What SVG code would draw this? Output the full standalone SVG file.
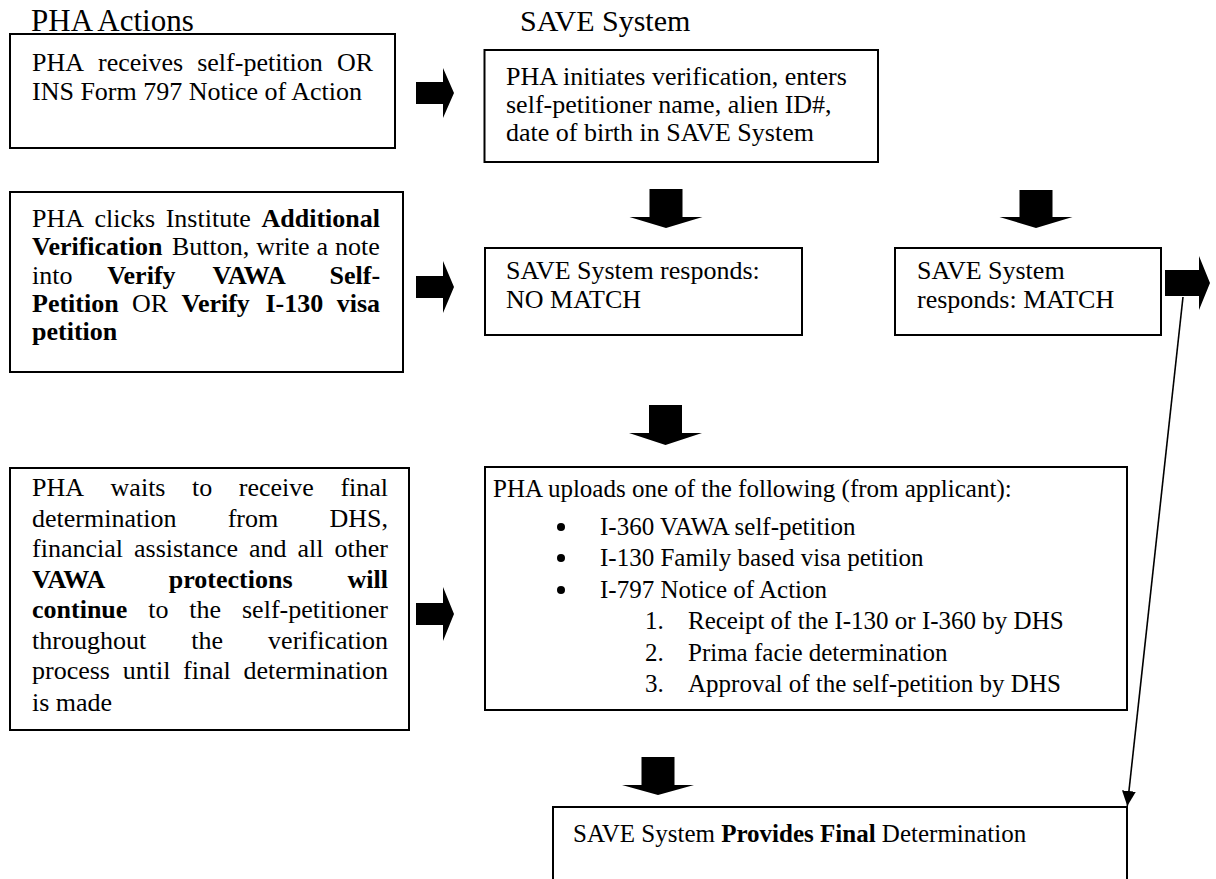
<svg xmlns="http://www.w3.org/2000/svg" width="1216" height="879" viewBox="0 0 1216 879">
<style>
text{font-family:"Liberation Serif","Times New Roman",serif;font-size:26px;fill:#000}
.title{font-size:30px}
.sm{font-size:25px}
.b{font-weight:bold}
.box{fill:#fff;stroke:#000;stroke-width:2}
.blk{fill:#000;stroke:none}
.thin{fill:none;stroke:#000;stroke-width:1.6}
</style>
<defs>
<marker id="ah" markerUnits="userSpaceOnUse" markerWidth="15" markerHeight="14" refX="15" refY="7" orient="auto">
<path d="M0,0 L15,7 L0,14 Z" fill="#000"/>
</marker>
</defs>
<rect width="1216" height="879" fill="#fff"/>
<g id="headers">
<text class="title" x="31" y="31" style="font-size:31px">PHA Actions</text>
<text class="title" x="520" y="31">SAVE System</text>
</g>
<g id="n1">
<rect class="box" x="10" y="34" width="385" height="114"/>
<text y="71"><tspan x="32">PHA</tspan><tspan x="98">receives</tspan><tspan x="197.2">self-petition</tspan><tspan x="336.9">OR</tspan></text>
<text x="32" y="100">INS Form 797 Notice of Action</text>
</g>
<g id="n2">
<rect class="box" x="484.5" y="50" width="393.5" height="112"/>
<text x="506" y="85">PHA initiates verification, enters</text>
<text x="506" y="113">self-petitioner name, alien ID#,</text>
<text x="506" y="141">date of birth in SAVE System</text>
</g>
<g id="n3">
<rect class="box" x="10" y="192" width="393" height="180"/>
<text y="227"><tspan x="32">PHA</tspan><tspan x="94.5">clicks</tspan><tspan x="165.7">Institute</tspan><tspan x="261.5" class="b">Additional</tspan></text>
<text y="255"><tspan x="32" class="b">Verification</tspan><tspan x="171.9">Button,</tspan><tspan x="256.2">write</tspan><tspan x="316.6">a</tspan><tspan x="335.1">note</tspan></text>
<text y="283.5"><tspan x="32">into</tspan><tspan x="107.2" class="b">Verify</tspan><tspan x="212.5" class="b">VAWA</tspan><tspan x="329.5" class="b">Self-</tspan></text>
<text y="312"><tspan x="32" class="b">Petition</tspan><tspan x="132">OR</tspan><tspan x="181.5" class="b">Verify</tspan><tspan x="265.5" class="b">I-130</tspan><tspan x="336.7" class="b">visa</tspan></text>
<text y="340" x="32" class="b">petition</text>
</g>
<g id="n4">
<rect class="box" x="485" y="248" width="317" height="87"/>
<text x="506" y="279">SAVE System responds:</text>
<text x="506" y="308">NO MATCH</text>
</g>
<g id="n5">
<rect class="box" x="895" y="248" width="266" height="87"/>
<text x="917" y="279">SAVE System</text>
<text x="917" y="308">responds: MATCH</text>
</g>
<g id="n6">
<rect class="box" x="10" y="468" width="399" height="262"/>
<text y="496"><tspan x="32">PHA</tspan><tspan x="110.6">waits</tspan><tspan x="192">to</tspan><tspan x="238.8">receive</tspan><tspan x="340.4">final</tspan></text>
<text y="526.5"><tspan x="32">determination</tspan><tspan x="227.7">from</tspan><tspan x="329.5">DHS,</tspan></text>
<text y="557"><tspan x="32">financial</tspan><tspan x="134">assistance</tspan><tspan x="249">and</tspan><tspan x="297.5">all</tspan><tspan x="334.5">other</tspan></text>
<text y="587.5" class="b"><tspan x="32">VAWA</tspan><tspan x="168.8">protections</tspan><tspan x="347.5">will</tspan></text>
<text y="618"><tspan x="32" class="b">continue</tspan><tspan x="148.2">to</tspan><tspan x="189.3">the</tspan><tspan x="242">self-petitioner</tspan></text>
<text y="648.5"><tspan x="32">throughout</tspan><tspan x="191.2">the</tspan><tspan x="268.1">verification</tspan></text>
<text y="679"><tspan x="32">process</tspan><tspan x="122.7">until</tspan><tspan x="183.1">final</tspan><tspan x="243.5">determination</tspan></text>
<text x="32" y="711">is made</text>
</g>
<g id="n7">
<rect class="box" x="485" y="467" width="642" height="243"/>
<text class="sm" x="493" y="497">PHA uploads one of the following (from applicant):</text>
<circle class="blk" cx="561" cy="527" r="4"/>
<circle class="blk" cx="561" cy="558" r="4"/>
<circle class="blk" cx="561" cy="590" r="4"/>
<text class="sm" x="600" y="535">I-360 VAWA self-petition</text>
<text class="sm" x="600" y="566">I-130 Family based visa petition</text>
<text class="sm" x="600" y="598">I-797 Notice of Action</text>
<text class="sm" x="645" y="629">1.</text>
<text class="sm" x="688" y="629">Receipt of the I-130 or I-360 by DHS</text>
<text class="sm" x="645" y="661">2.</text>
<text class="sm" x="688" y="661">Prima facie determination</text>
<text class="sm" x="645" y="692">3.</text>
<text class="sm" x="688" y="692">Approval of the self-petition by DHS</text>
</g>
<g id="n8">
<rect class="box" x="553" y="807" width="574" height="110"/>
<text class="sm" x="573" y="842">SAVE System <tspan class="b">Provides Final</tspan> Determination</text>
</g>
<g id="connectors">
<polygon class="blk" points="416,82 443,82 443,68 454,93 443,118 443,104 416,104"/>
<polygon class="blk" points="416,276 443,276 443,261 454,287 443,313 443,298 416,298"/>
<polygon class="blk" points="416,603 443,603 443,587 454,614 443,641 443,625 416,625"/>
<polygon class="blk" points="1165,270 1199,270 1199,256 1210,283 1199,310 1199,296 1165,296"/>
<polygon class="blk" points="649.5,189 682.5,189 682.5,217 702.5,217 666,228 629.5,217 649.5,217"/>
<polygon class="blk" points="1019.5,190 1052.5,190 1052.5,217 1072.5,217 1036,228 999.5,217 1019.5,217"/>
<polygon class="blk" points="649,405 682,405 682,433 702,433 665.5,445 629,433 649,433"/>
<polygon class="blk" points="641.5,757 674.5,757 674.5,785 694,785 658,795 622,785 641.5,785"/>
<line class="thin" x1="1183" y1="297" x2="1127.3" y2="806" marker-end="url(#ah)"/>
</g>
</svg>
